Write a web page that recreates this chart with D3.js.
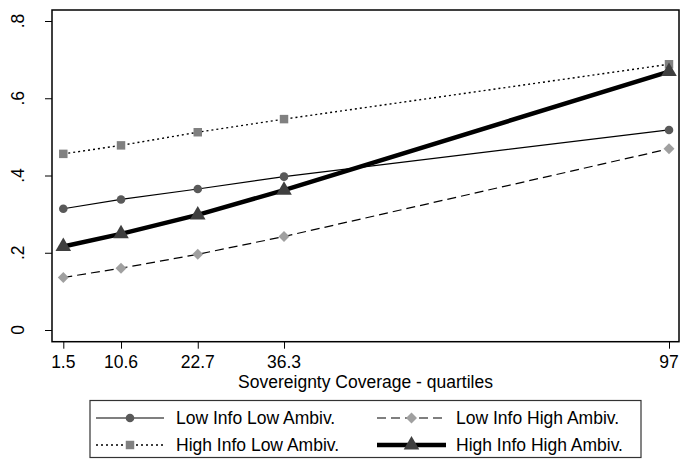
<!DOCTYPE html>
<html>
<head>
<meta charset="utf-8">
<script src="https://cdn.jsdelivr.net/npm/d3@7"></script>
<style>
  body { margin: 0; background: #fff; }
  text { font-family: "Liberation Sans", Arial, sans-serif; fill: #000; }
</style>
</head>
<body>
<div id="chart"></div>
<script>
// data
const coverage = [1.5, 10.6, 22.7, 36.3, 97];
const coverageLabels = ["1.5", "10.6", "22.7", "36.3", "97"];
const lowInfoLowAmbiv = [0.314, 0.338, 0.365, 0.397, 0.518];
const highInfoLowAmbiv = [0.456, 0.478, 0.512, 0.546, 0.688];
const lowInfoHighAmbiv = [0.136, 0.160, 0.196, 0.242, 0.469];
const highInfoHighAmbiv = [0.216, 0.249, 0.298, 0.362, 0.669];
const yTicks = [0, 0.2, 0.4, 0.6, 0.8];
const yTickLabels = ["0", ".2", ".4", ".6", ".8"];
const seriesNames = ["Low Info Low Ambiv.", "High Info Low Ambiv.", "Low Info High Ambiv.", "High Info High Ambiv."];

const width = 683, height = 460;
const frame = { left: 52, right: 679, top: 10, bottom: 341.7 };
const fontSize = 17.5;

const svg = d3.select("#chart")
  .append("svg")
  .attr("width", width)
  .attr("height", height);

let x = d3.scaleLinear()
  .domain([1.5, 97])
  .range([63.3, 669]);

let y = d3.scaleLinear()
  .domain([0, 0.8])
  .range([330, 21]);

// series styles
const series = [
  { name: seriesNames[0], values: lowInfoLowAmbiv, width: 1.2, dash: null,
    symbol: d3.symbolCircle, size: 58, fill: "#595959", rot: 0 },
  { name: seriesNames[1], values: highInfoLowAmbiv, width: 1.4, dash: "2,3",
    symbol: d3.symbolSquare, size: 72, fill: "#808080", rot: 0 },
  { name: seriesNames[2], values: lowInfoHighAmbiv, width: 1.2, dash: "9,5",
    symbol: d3.symbolSquare, size: 60, fill: "#a0a0a0", rot: 45 },
  { name: seriesNames[3], values: highInfoHighAmbiv, width: 4.5, dash: null,
    symbol: d3.symbolTriangle, size: 105, fill: "#3f3f3f", rot: 0 }
];

// axes
svg.append("g")
  .attr("transform", `translate(${frame.left},0)`)
  .call(d3.axisLeft(y).tickValues(yTicks).tickSize(7).tickFormat(""))
  .call(g => g.select(".domain").remove())
  .call(g => g.selectAll("line").attr("stroke", "#000"));

svg.append("g")
  .selectAll("text")
  .data(yTicks)
  .join("text")
  .attr("transform", d => `translate(24,${y(d)}) rotate(-90)`)
  .attr("text-anchor", "middle")
  .attr("font-size", fontSize)
  .text((d, i) => yTickLabels[i]);

svg.append("g")
  .attr("transform", `translate(0,${frame.bottom})`)
  .call(d3.axisBottom(x).tickValues(coverage).tickSize(7).tickFormat(""))
  .call(g => g.select(".domain").remove())
  .call(g => g.selectAll("line").attr("stroke", "#000"));

svg.append("g")
  .selectAll("text")
  .data(coverage)
  .join("text")
  .attr("x", d => x(d))
  .attr("y", 368)
  .attr("text-anchor", "middle")
  .attr("font-size", fontSize)
  .text((d, i) => coverageLabels[i]);

svg.append("text")
  .attr("x", (frame.left + frame.right) / 2)
  .attr("y", 387.5)
  .attr("text-anchor", "middle")
  .attr("font-size", fontSize)
  .text("Sovereignty Coverage - quartiles");

// lines and markers
let line = d3.line()
  .x((d, i) => x(coverage[i]))
  .y(d => y(d));

for (let s of series) {
  svg.append("path")
    .datum(s.values)
    .attr("d", line)
    .attr("fill", "none")
    .attr("stroke", "#000")
    .attr("stroke-width", s.width)
    .attr("stroke-dasharray", s.dash);
}

for (let s of series) {
  svg.append("g")
    .selectAll("path")
    .data(s.values)
    .join("path")
    .attr("d", d3.symbol().type(s.symbol).size(s.size))
    .attr("transform", (d, i) => `translate(${x(coverage[i])},${y(d)}) rotate(${s.rot})`)
    .attr("fill", s.fill);
}

// plot frame
svg.append("rect")
  .attr("x", frame.left)
  .attr("y", frame.top)
  .attr("width", frame.right - frame.left)
  .attr("height", frame.bottom - frame.top)
  .attr("fill", "none")
  .attr("stroke", "#000")
  .attr("stroke-width", 1.5);

// legend
const legend = svg.append("g");
legend.append("rect")
  .attr("x", 90)
  .attr("y", 400.5)
  .attr("width", 551)
  .attr("height", 57)
  .attr("fill", "none")
  .attr("stroke", "#333")
  .attr("stroke-width", 1.2);

const slots = [
  { x0: 96, x1: 164, tx: 176, ty: 418 },
  { x0: 96, x1: 164, tx: 176, ty: 445 },
  { x0: 377, x1: 446, tx: 456, ty: 418 },
  { x0: 377, x1: 446, tx: 456, ty: 445 }
];

series.forEach((s, i) => {
  const p = slots[i];
  legend.append("line")
    .attr("x1", p.x0).attr("x2", p.x1)
    .attr("y1", p.ty).attr("y2", p.ty)
    .attr("stroke", "#000")
    .attr("stroke-width", s.width)
    .attr("stroke-dasharray", s.dash);
  legend.append("path")
    .attr("d", d3.symbol().type(s.symbol).size(s.size))
    .attr("transform", `translate(${(p.x0 + p.x1) / 2},${p.ty}) rotate(${s.rot})`)
    .attr("fill", s.fill);
  legend.append("text")
    .attr("x", p.tx)
    .attr("y", p.ty)
    .attr("dy", "0.36em")
    .attr("font-size", fontSize)
    .text(s.name);
});
</script>
</body>
</html>
